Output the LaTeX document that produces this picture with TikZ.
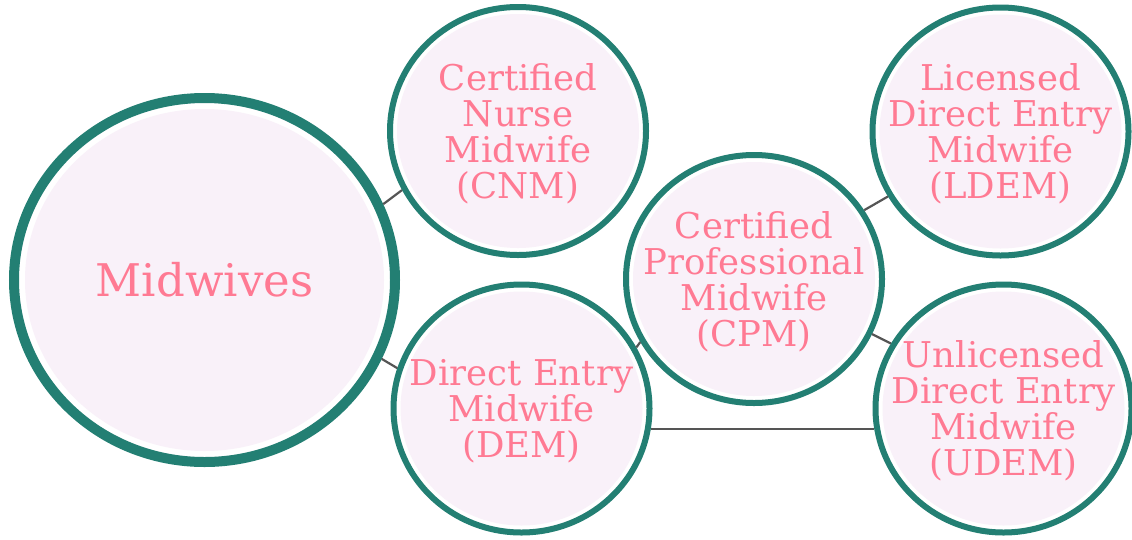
\documentclass[tikz,border=0pt]{standalone}
\usepackage{fontspec}
\setmainfont{DejaVu Serif}
\usetikzlibrary{calc,shapes.geometric}

\definecolor{ringteal}{HTML}{237F73}
\definecolor{bubfill}{HTML}{F9F1F9}
\definecolor{labelpink}{HTML}{FF7A93}
\definecolor{linkgray}{HTML}{555555}

\newcommand{\bubfont}{\fontsize{35.5}{36}\selectfont}
\newcommand{\hubfont}{\fontsize{45}{50}\selectfont}

\tikzset{
  ring inset/.store in=\ringinset, ring inset=7pt,
  ring/.style={ellipse, draw=ringteal, fill=white, inner sep=-30pt,
    text=labelpink, align=center,
    path picture={\fill[bubfill] let \p1=(path picture bounding box.north east),
      \p2=(path picture bounding box.center) in
      (\p2) ellipse[x radius=\x1-\x2-\ringinset, y radius=\y1-\y2-\ringinset];}},
  bubble/.style={ring, line width=6pt, minimum width=256pt, minimum height=248pt,
    text depth=-22pt, font=\bubfont},
  hub/.style={ring, line width=10pt, minimum width=381pt, minimum height=364pt,
    ring inset=11pt, font=\hubfont},
  link/.style={draw=linkgray, line width=2.2pt}
}

\begin{document}
\begin{tikzpicture}[x=1pt,y=-1pt]
\useasboundingbox (0,0) rectangle (1132,539);

% the circles
\node[hub] (mid) at (204.5,280) {Midwives};
\node[bubble] (cnm) at (518,131) {Certified\\Nurse\\Midwife\\(CNM)};
\node[bubble] (dem) at (521.5,408.5) {Direct Entry\\Midwife\\(DEM)};
\node[bubble] (cpm) at (754,279) {Certified\\Professional\\Midwife\\(CPM)};
\node[bubble] (ldem) at (1000.5,131.5) {Licensed\\Direct Entry\\Midwife\\(LDEM)};
\node[bubble] (udem) at (1003.5,408.5) {Unlicensed\\Direct Entry\\Midwife\\(UDEM)};

% connectors
\draw[link] (mid.23) -- (cnm.207);
\draw[link] (mid.-24) -- (dem.162);
\draw[link] (dem.28) -- (cpm.209);
\draw[link] (dem.-9) -- (udem.189);
\draw[link] (cpm.32) -- (ldem.210);
\draw[link] (cpm.-25) -- (udem.150);

\end{tikzpicture}
\end{document}
